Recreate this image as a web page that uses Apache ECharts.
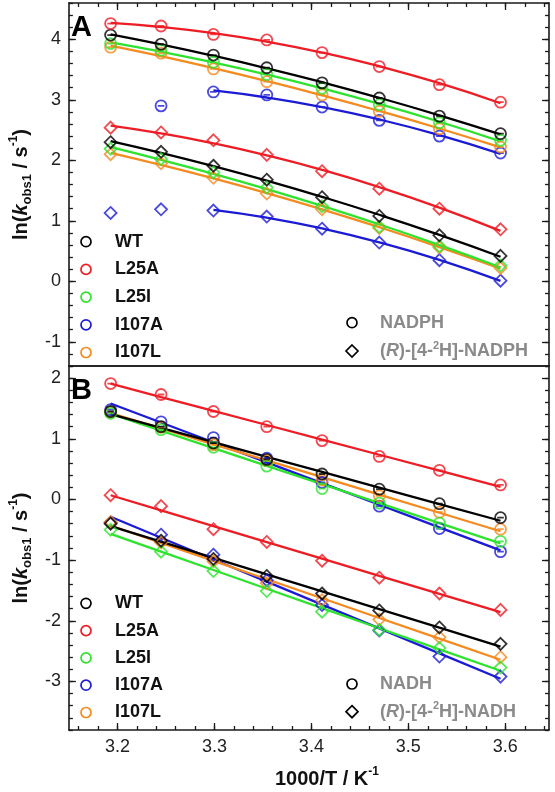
<!DOCTYPE html>
<html><head><meta charset="utf-8">
<script src="https://cdn.jsdelivr.net/npm/echarts@6/dist/echarts.min.js"></script>
<style>html,body{margin:0;padding:0;background:#fff}#c{width:555px;height:792px}</style>
</head><body><div id="c"></div>
<script>
// ---- data ----
const x1000T = [3.193, 3.245, 3.299, 3.354, 3.411, 3.470, 3.532, 3.595];
const mutants = ['WT', 'L25A', 'L25I', 'I107A', 'I107L'];

// Panel A: NADPH (circles)
const aWT_H    = [4.07, 3.92, 3.74, 3.53, 3.28, 3.03, 2.73, 2.44];
const aL25A_H  = [4.26, 4.22, 4.08, 3.99, 3.78, 3.55, 3.25, 2.96];
const aL25I_H  = [3.93, 3.82, 3.62, 3.42, 3.19, 2.92, 2.62, 2.33];
const aI107A_H = [null, 2.90, 3.13, 3.08, 2.88, 2.66, 2.40, 2.12];
const aI107L_H = [3.87, 3.77, 3.51, 3.30, 3.08, 2.81, 2.52, 2.22];
// Panel A: (R)-[4-2H]-NADPH (diamonds)
const aWT_D    = [2.30, 2.14, 1.91, 1.68, 1.39, 1.08, 0.76, 0.42];
const aL25A_D  = [2.54, 2.46, 2.33, 2.09, 1.82, 1.53, 1.20, 0.86];
const aL25I_D  = [2.19, 2.02, 1.80, 1.55, 1.24, 0.90, 0.58, 0.26];
const aI107A_D = [1.13, 1.19, 1.17, 1.07, 0.87, 0.64, 0.35, 0.01];
const aI107L_D = [2.10, 1.95, 1.71, 1.45, 1.19, 0.88, 0.56, 0.22];

// Panel B: NADH (circles)
const bWT_H    = [1.45, 1.20, 0.93, 0.66, 0.42, 0.17, -0.07, -0.30];
const bL25A_H  = [1.91, 1.73, 1.45, 1.20, 0.97, 0.71, 0.48, 0.24];
const bL25I_H  = [1.42, 1.15, 0.86, 0.55, 0.18, -0.06, -0.39, -0.69];
const bI107A_H = [1.48, 1.28, 1.02, 0.68, 0.28, -0.11, -0.48, -0.86];
const bI107L_H = [1.44, 1.19, 0.90, 0.64, 0.32, 0.06, -0.21, -0.49];
// Panel B: (R)-[4-2H]-NADH (diamonds)
const bWT_D    = [-0.40, -0.68, -0.98, -1.26, -1.55, -1.83, -2.11, -2.38];
const bL25A_D  = [0.07, -0.11, -0.49, -0.70, -1.01, -1.29, -1.55, -1.82];
const bL25I_D  = [-0.50, -0.86, -1.18, -1.51, -1.85, -2.15, -2.45, -2.77];
const bI107A_D = [-0.38, -0.58, -0.91, -1.33, -1.74, -2.16, -2.59, -2.92];
const bI107L_D = [-0.37, -0.71, -1.02, -1.38, -1.66, -1.98, -2.27, -2.60];

// first point index included in the fit (I107A in panel A excludes the hottest points)
const fitFromA = { WT: 0, L25A: 0, L25I: 0, I107A: 2, I107L: 0 };
const fitFromB = { WT: 0, L25A: 0, L25I: 0, I107A: 0, I107L: 0 };

const xTicks = [3.2, 3.3, 3.4, 3.5, 3.6];
const yTicksA = [-1, 0, 1, 2, 3, 4];
const yTicksB = [-3, -2, -1, 0, 1, 2];
const xRange = [3.15, 3.645];
const yRangeA = [-1.4, 4.6];
const yRangeB = [-3.8, 2.2];

// ---- styling ----
const colors = { WT: '#000000', L25A: '#ee1c24', L25I: '#2ee32e', I107A: '#1b1bd6', I107L: '#f58a1f' };
const FONT = '"Liberation Sans", Arial, Helvetica, sans-serif';
const AX = '#1a1a1a';
const circleSym = 'path://M0,10A10,10,0,1,1,20,10A10,10,0,1,1,0,10ZM4,10L16,10';
const diamondSym = 'path://M10,0L20,10L10,20L0,10Z';

function minorTicks(lo, hi, step) {
  const out = [];
  for (let k = Math.ceil(lo / step - 1e-9); k * step <= hi + 1e-9; k++) out.push(+(k * step).toFixed(4));
  return out;
}

function polyfit(pts, deg) {
  const mx = pts.reduce((s, p) => s + p[0], 0) / pts.length;
  const n = deg + 1;
  const A = Array.from({ length: n }, () => new Array(n + 1).fill(0));
  pts.forEach(([x, y]) => {
    const u = x - mx;
    for (let r = 0; r < n; r++) {
      for (let c = 0; c < n; c++) A[r][c] += Math.pow(u, r + c);
      A[r][n] += y * Math.pow(u, r);
    }
  });
  for (let i = 0; i < n; i++) {
    let piv = i;
    for (let r = i + 1; r < n; r++) if (Math.abs(A[r][i]) > Math.abs(A[piv][i])) piv = r;
    [A[i], A[piv]] = [A[piv], A[i]];
    for (let r = 0; r < n; r++) {
      if (r === i) continue;
      const f = A[r][i] / A[i][i];
      for (let c = i; c <= n; c++) A[r][c] -= f * A[i][c];
    }
  }
  const coef = A.map((row, i) => row[n] / row[i]);
  return x => coef.reduce((s, c, i) => s + c * Math.pow(x - mx, i), 0);
}

const series = [];
function addSet(xAxisIndex, yAxisIndex, name, values, fitFrom, symbol, deg) {
  const c = colors[name];
  const pts = x1000T.map((x, i) => [x, values[i]]).filter(p => p[1] != null);
  const fitPts = x1000T.map((x, i) => [x, values[i]]).slice(fitFrom).filter(p => p[1] != null);
  const f = polyfit(fitPts, deg);
  series.push({
    type: 'line', name: name, xAxisIndex, yAxisIndex,
    data: fitPts.map(p => [p[0], f(p[0])]),
    symbol: 'none', smooth: deg > 1, silent: true, z: 2,
    lineStyle: { color: c, width: 2.3 }
  });
  series.push({
    type: 'scatter', name: name, xAxisIndex, yAxisIndex,
    data: pts, symbol: symbol, symbolSize: symbol === circleSym ? 11 : 12, silent: true, z: 3,
    itemStyle: { color: 'rgba(255,255,255,0)', borderColor: c, borderWidth: 1.8 }
  });
}

const aH = { WT: aWT_H, L25A: aL25A_H, L25I: aL25I_H, I107A: aI107A_H, I107L: aI107L_H };
const aD = { WT: aWT_D, L25A: aL25A_D, L25I: aL25I_D, I107A: aI107A_D, I107L: aI107L_D };
const bH = { WT: bWT_H, L25A: bL25A_H, L25I: bL25I_H, I107A: bI107A_H, I107L: bI107L_H };
const bD = { WT: bWT_D, L25A: bL25A_D, L25I: bL25I_D, I107A: bI107A_D, I107L: bI107L_D };
const order = ['I107A', 'I107L', 'L25I', 'WT', 'L25A'];
order.forEach(m => {
  addSet(0, 0, m, aH[m], fitFromA[m], circleSym, 2);
  addSet(0, 0, m, aD[m], fitFromA[m], diamondSym, 2);
  addSet(3, 4, m, bH[m], fitFromB[m], circleSym, 1);
  addSet(3, 4, m, bD[m], fitFromB[m], diamondSym, 1);
});

// ---- axes ----
const lineS = { show: true, onZero: false, lineStyle: { color: AX, width: 1.6 } };
const noLine = { show: false, onZero: false };
const tickS = (vals, len) => ({ show: true, inside: true, length: len, customValues: vals, lineStyle: { color: AX, width: 1.3 } });
const lblS = (vals) => ({ show: true, customValues: vals, fontSize: 18, color: '#222', fontFamily: FONT, margin: 8 });
const noLbl = { show: false };
const xMinor = minorTicks(xRange[0], xRange[1], 0.02);
const yMinorA = minorTicks(yRangeA[0], yRangeA[1], 0.2);
const yMinorB = minorTicks(yRangeB[0], yRangeB[1], 0.2);

function xAx(grid, pos, opts) {
  return Object.assign({ type: 'value', gridIndex: grid, position: pos, min: xRange[0], max: xRange[1],
    splitLine: { show: false }, axisLine: noLine, axisTick: { show: false }, axisLabel: noLbl }, opts);
}
function yAx(grid, pos, range, opts) {
  return Object.assign({ type: 'value', gridIndex: grid, position: pos, min: range[0], max: range[1],
    splitLine: { show: false }, axisLine: noLine, axisTick: { show: false }, axisLabel: noLbl }, opts);
}

const richName = {
  n: { fontSize: 20, fontWeight: 'bold', fontFamily: FONT, color: '#111', lineHeight: 26 },
  k: { fontSize: 20, fontWeight: 'bold', fontStyle: 'italic', fontFamily: FONT, color: '#111', lineHeight: 26 },
  sub: { fontSize: 13, fontWeight: 'bold', fontFamily: FONT, color: '#111', verticalAlign: 'bottom', lineHeight: 26 },
  sup: { fontSize: 12, fontWeight: 'bold', fontFamily: FONT, color: '#111', verticalAlign: 'top', lineHeight: 26 }
};
const yName = '{n|ln(}{k|k}{sub|obs1}{n| / s}{sup|-1}{n|)}';

const xAxes = [
  xAx(0, 'top', { axisLine: lineS, axisTick: tickS(xTicks, 7) }),
  xAx(0, 'top', { axisTick: tickS(xMinor, 4) }),
  xAx(0, 'bottom', { axisLine: lineS }),
  xAx(1, 'bottom', { axisLine: lineS, axisTick: tickS(xTicks, 7), axisLabel: lblS(xTicks),
    name: '{n|1000/T / K}{sup|-1}', nameLocation: 'middle', nameGap: 36,
    nameTextStyle: { rich: richName, padding: [0, 0, 0, 36] } }),
  xAx(1, 'bottom', { axisTick: tickS(xMinor, 4) }),
  xAx(1, 'top', { axisLine: lineS })
];
const yAxes = [
  yAx(0, 'left', yRangeA, { axisLine: lineS, axisTick: tickS(yTicksA, 7), axisLabel: lblS(yTicksA),
    name: yName, nameLocation: 'middle', nameGap: 25, nameRotate: 90, nameTextStyle: { rich: richName } }),
  yAx(0, 'left', yRangeA, { axisTick: tickS(yMinorA, 4) }),
  yAx(0, 'right', yRangeA, { axisLine: lineS, axisTick: tickS(yTicksA, 7) }),
  yAx(0, 'right', yRangeA, { axisTick: tickS(yMinorA, 4) }),
  yAx(1, 'left', yRangeB, { axisLine: lineS, axisTick: tickS(yTicksB, 7), axisLabel: lblS(yTicksB),
    name: yName, nameLocation: 'middle', nameGap: 25, nameRotate: 90, nameTextStyle: { rich: richName } }),
  yAx(1, 'left', yRangeB, { axisTick: tickS(yMinorB, 4) }),
  yAx(1, 'right', yRangeB, { axisLine: lineS, axisTick: tickS(yTicksB, 7) }),
  yAx(1, 'right', yRangeB, { axisTick: tickS(yMinorB, 4) })
];

// ---- legends (graphics) ----
const g = [];
function txt(x, y, text, color, extra) {
  g.push({ type: 'text', x, y, silent: true, style: Object.assign({ text, fill: color, font: 'bold 18px ' + FONT, verticalAlign: 'middle' }, extra || {}) });
}
function legendBlock(y0, step) {
  mutants.forEach((m, i) => {
    const y = y0 + i * step;
    g.push({ type: 'circle', silent: true, shape: { cx: 86, cy: y, r: 5 }, style: { fill: 'none', stroke: colors[m], lineWidth: 1.7 } });
    txt(115, y, m, '#111');
  });
}
legendBlock(241.7, 27.7);
legendBlock(603.3, 27.3);

const grayRich = {
  n: { fontSize: 18, fontWeight: 'bold', fontFamily: FONT, fill: '#8a8a8a', lineHeight: 22 },
  i: { fontSize: 18, fontWeight: 'bold', fontStyle: 'italic', fontFamily: FONT, fill: '#8a8a8a', lineHeight: 22 },
  sup: { fontSize: 11, fontWeight: 'bold', fontFamily: FONT, fill: '#8a8a8a', verticalAlign: 'top', lineHeight: 22 }
};
function rightLegend(yc, yd, nameH, nameD) {
  g.push({ type: 'circle', silent: true, shape: { cx: 352, cy: yc, r: 5 }, style: { fill: 'none', stroke: '#000', lineWidth: 1.7 } });
  g.push({ type: 'polygon', silent: true, shape: { points: [[352, yd - 6], [358, yd], [352, yd + 6], [346, yd]] }, style: { fill: 'none', stroke: '#000', lineWidth: 1.7 } });
  txt(380, yc, nameH, '#8a8a8a');
  g.push({ type: 'text', x: 380, y: yd, silent: true, style: {
    text: '{n|(}{i|R}{n|)-[4-}{sup|2}{n|H]-' + nameD + '}', rich: grayRich, verticalAlign: 'middle' } });
}
rightLegend(322.7, 351, 'NADPH', 'NADPH');
rightLegend(684, 711.7, 'NADH', 'NADH');

g.push({ type: 'text', x: 71, y: 28, silent: true, style: { text: 'A', fill: '#000', font: 'bold 29px ' + FONT, verticalAlign: 'middle' } });
g.push({ type: 'text', x: 71, y: 391, silent: true, style: { text: 'B', fill: '#000', font: 'bold 29px ' + FONT, verticalAlign: 'middle' } });

const chart = echarts.init(document.getElementById('c'), null, { renderer: 'canvas' });
chart.setOption({
  animation: false,
  backgroundColor: '#fff',
  grid: [
    { left: 63, top: 3, width: 486, height: 363 },
    { left: 63, top: 366, width: 486, height: 364 }
  ],
  xAxis: xAxes,
  yAxis: yAxes,
  series: series,
  graphic: { elements: g }
});
</script></body></html>
